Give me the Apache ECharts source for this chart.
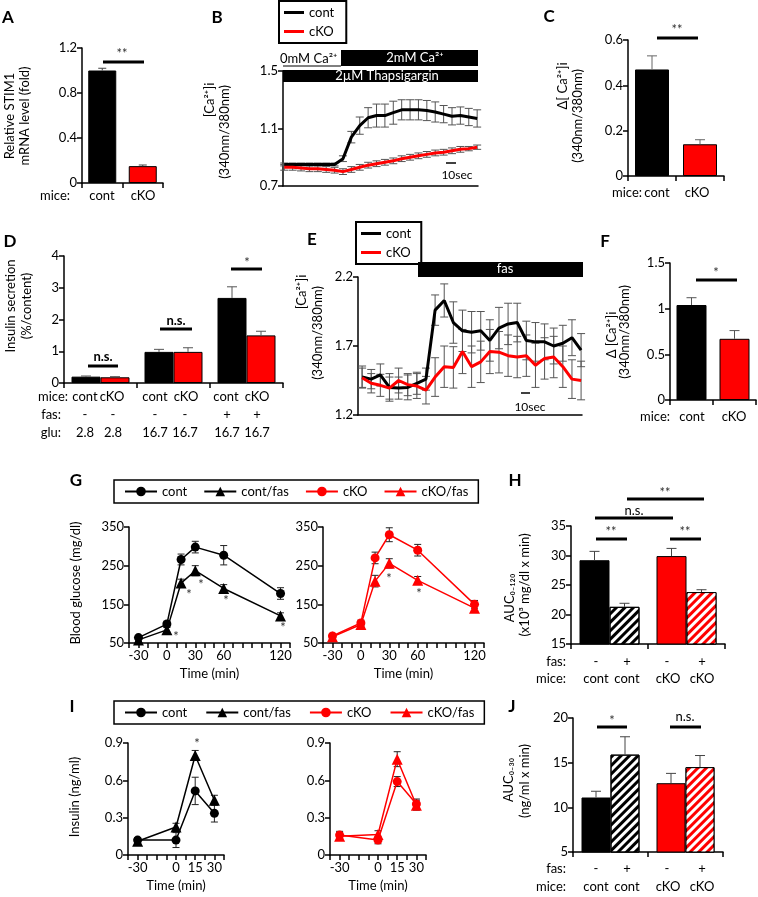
<!DOCTYPE html>
<html>
<head>
<meta charset="utf-8">
<script src="https://cdn.jsdelivr.net/npm/echarts@6/dist/echarts.min.js"></script>
<style>
html, body { margin: 0; padding: 0; background: #fff; }
#chart { width: 758px; height: 897px; }
</style>
</head>
<body>
<div id="chart"></div>
<script>
var FONT = 'Lato, "Noto Sans", sans-serif';
var RED = '#ff0000';

// A - STIM1 mRNA
var miceAC = ['cont', 'cKO'];
var stim1A = [1.0, 0.15];
var stim1AErr = [0.02, 0.01];

// B - Ca trace (thapsigargin)
var timeB = [0, 1, 2, 3, 4, 5, 6, 7, 8, 9, 10, 11, 12, 13, 14, 15, 16, 17, 18, 19, 20, 21, 22, 23];
var contB = [0.85, 0.85, 0.85, 0.85, 0.85, 0.85, 0.85, 0.89, 1.04, 1.12, 1.175, 1.19, 1.19, 1.21, 1.23, 1.23, 1.23, 1.225, 1.215, 1.20, 1.185, 1.19, 1.18, 1.17];
var contBErr = [0.01, 0.01, 0.01, 0.01, 0.01, 0.01, 0.01, 0.02, 0.04, 0.06, 0.07, 0.08, 0.08, 0.08, 0.07, 0.07, 0.07, 0.07, 0.07, 0.06, 0.06, 0.06, 0.06, 0.06];
var ckoB = [0.83, 0.83, 0.825, 0.82, 0.82, 0.815, 0.81, 0.80, 0.815, 0.83, 0.845, 0.855, 0.865, 0.875, 0.89, 0.90, 0.91, 0.92, 0.93, 0.935, 0.945, 0.955, 0.96, 0.97];
var ckoBErr = [0.02, 0.02, 0.02, 0.02, 0.02, 0.02, 0.02, 0.02, 0.02, 0.02, 0.02, 0.02, 0.02, 0.02, 0.02, 0.02, 0.02, 0.02, 0.02, 0.02, 0.02, 0.02, 0.015, 0.015];

// C - delta Ca
var deltaC = [0.47, 0.14];
var deltaCErr = [0.06, 0.02];

// D - insulin secretion
var groupsD = ['2.8', '16.7', '16.7 fas'];
var contD = [0.20, 0.98, 2.68];
var contDErr = [0.02, 0.08, 0.35];
var ckoD = [0.18, 0.98, 1.50];
var ckoDErr = [0.02, 0.13, 0.13];

// E - Ca trace (fas)
var timeE = [0, 1, 2, 3, 4, 5, 6, 7, 8, 9, 10, 11, 12, 13, 14, 15, 16, 17, 18, 19, 20, 21, 22, 23, 24];
var contE = [1.475, 1.46, 1.49, 1.40, 1.395, 1.40, 1.43, 1.46, 1.96, 2.03, 1.87, 1.81, 1.80, 1.81, 1.74, 1.83, 1.86, 1.87, 1.74, 1.73, 1.73, 1.70, 1.72, 1.76, 1.67];
var contEErr = [0.08, 0.07, 0.08, 0.10, 0.08, 0.09, 0.08, 0.08, 0.11, 0.12, 0.15, 0.15, 0.15, 0.14, 0.15, 0.15, 0.15, 0.14, 0.14, 0.14, 0.13, 0.13, 0.13, 0.13, 0.12];
var ckoE = [1.47, 1.43, 1.415, 1.395, 1.45, 1.42, 1.41, 1.38, 1.475, 1.55, 1.545, 1.66, 1.55, 1.585, 1.66, 1.655, 1.63, 1.62, 1.63, 1.56, 1.61, 1.62, 1.55, 1.46, 1.45];
var ckoEErr = [0.07, 0.07, 0.08, 0.08, 0.09, 0.08, 0.09, 0.10, 0.14, 0.15, 0.15, 0.16, 0.15, 0.15, 0.16, 0.15, 0.15, 0.15, 0.15, 0.16, 0.15, 0.15, 0.15, 0.14, 0.14];

// F - delta Ca (fas)
var deltaF = [1.04, 0.67];
var deltaFErr = [0.08, 0.09];

// G - blood glucose
var timeG = [-30, 0, 15, 30, 60, 120];
var timeGTicks = [-30, 0, 30, 60, 120];
var contG = [64, 99, 266, 298, 277, 178];
var contGErr = [5, 7, 14, 15, 25, 15];
var contFasG = [58, 84, 205, 237, 191, 120];
var contFasGErr = [4, 6, 10, 13, 10, 8];
var ckoG = [68, 102, 270, 330, 290, 150];
var ckoGErr = [5, 7, 15, 18, 15, 10];
var ckoFasG = [66, 98, 210, 256, 212, 140];
var ckoFasGErr = [4, 6, 15, 12, 10, 8];

// H - AUC glucose
var miceHJ = ['cont', 'cKO'];
var aucH = [29.2, 29.9];
var aucHErr = [1.5, 1.3];
var aucFasH = [21.3, 23.8];
var aucFasHErr = [0.6, 0.4];

// I - insulin
var timeI = [-30, 0, 15, 30];
var timeITicks = [-30, 0, 15, 30];
var contI = [0.12, 0.12, 0.515, 0.335];
var contIErr = [0.02, 0.06, 0.11, 0.07];
var contFasI = [0.11, 0.225, 0.80, 0.44];
var contFasIErr = [0.02, 0.03, 0.04, 0.04];
var ckoI = [0.16, 0.12, 0.59, 0.41];
var ckoIErr = [0.03, 0.03, 0.04, 0.04];
var ckoFasI = [0.15, 0.165, 0.77, 0.40];
var ckoFasIErr = [0.03, 0.03, 0.06, 0.04];

// J - AUC insulin
var aucJ = [11.1, 12.7];
var aucJErr = [0.7, 1.1];
var aucFasJ = [15.9, 14.5];
var aucFasJErr = [2.0, 1.3];

// ---------- helpers ----------
function pairs(xs, ys) {
	return ys.map(function (v, i) { return [xs[i], v]; });
}
function triples(xs, ys, es) {
	return ys.map(function (v, i) { return [xs[i], v, es[i]]; });
}
function idx(arr) {
	return arr.map(function (v, i) { return i; });
}

function errorBars(offset, cap, both, color) {
	return function (params, api) {
		var x = api.value(0), y = api.value(1), e = api.value(2);
		var pTop = api.coord([x, y + e]);
		var pBot = api.coord([x, both ? y - e : y]);
		var cx = pTop[0] + offset;
		var st = { stroke: color, lineWidth: 1 };
		var kids = [
			{ type: 'line', shape: { x1: cx, y1: pTop[1], x2: cx, y2: pBot[1] }, style: st },
			{ type: 'line', shape: { x1: cx - cap, y1: pTop[1], x2: cx + cap, y2: pTop[1] }, style: st }
		];
		if (both) {
			kids.push({ type: 'line', shape: { x1: cx - cap, y1: pBot[1], x2: cx + cap, y2: pBot[1] }, style: st });
		}
		return { type: 'group', children: kids };
	};
}
function errSeries(ai, data, offset, cap, both, color, z) {
	return {
		type: 'custom', xAxisIndex: ai, yAxisIndex: ai, data: data,
		renderItem: errorBars(offset, cap, both, color),
		z: z, silent: true, clip: false
	};
}

var axisLineStyle = { color: '#000', width: 1.5 };
function yAxisOf(gi, min, max, interval, fmt) {
	return {
		type: 'value', gridIndex: gi, min: min, max: max, interval: interval,
		splitLine: { show: false },
		axisLine: { show: true, onZero: false, lineStyle: axisLineStyle },
		axisTick: { show: true, length: 5, lineStyle: axisLineStyle },
		axisLabel: { color: '#000', fontSize: 13, fontFamily: FONT, margin: 5, formatter: fmt }
	};
}
function catAxisOf(gi, cats) {
	return {
		type: 'category', gridIndex: gi, data: cats,
		axisLine: { show: true, onZero: false, lineStyle: axisLineStyle },
		axisTick: { show: true, length: 5, alignWithLabel: false, lineStyle: axisLineStyle },
		axisLabel: { show: false }, splitLine: { show: false }
	};
}
function traceAxisOf(gi, min, max) {
	return {
		type: 'value', gridIndex: gi, min: min, max: max,
		axisLine: { show: true, onZero: false, lineStyle: axisLineStyle },
		axisTick: { show: false }, axisLabel: { show: false }, splitLine: { show: false }
	};
}
function timeAxisOf(gi, min, max, interval, shown) {
	return {
		type: 'value', gridIndex: gi, min: min, max: max, interval: interval,
		axisLine: { show: true, onZero: false, lineStyle: axisLineStyle },
		axisTick: { show: true, length: 5, lineStyle: axisLineStyle },
		splitLine: { show: false },
		axisLabel: {
			color: '#000', fontSize: 13, fontFamily: FONT, margin: 6, interval: 0,
			showMinLabel: true, showMaxLabel: true,
			formatter: function (v) { return shown.indexOf(v) >= 0 ? String(v) : ''; }
		},
		name: 'Time (min)', nameLocation: 'middle', nameGap: 24,
		nameTextStyle: { color: '#000', fontSize: 13, fontFamily: FONT }
	};
}

function colored(values, colors) {
	return values.map(function (v, i) {
		return { value: v, itemStyle: { color: colors[i], borderColor: '#000', borderWidth: 1 } };
	});
}
function hatched(values, bg, fg) {
	return values.map(function (v, i) {
		return {
			value: v,
			itemStyle: {
				color: bg[i], borderColor: '#000', borderWidth: 1,
				decal: { symbol: 'rect', symbolSize: 1, color: fg[i], dashArrayX: [1, 0], dashArrayY: [3, 3], rotation: -Math.PI / 4 }
			}
		};
	});
}
function fixed(d) {
	return function (v) { return v === 0 ? '0' : v.toFixed(d); };
}

// ---------- grids ----------
var grids = [
	{ left: 82, top: 48, width: 81, height: 135 },    // 0 A
	{ left: 283, top: 71, width: 195, height: 115 },  // 1 B
	{ left: 628, top: 40, width: 96, height: 136 },   // 2 C
	{ left: 64, top: 256, width: 219, height: 127 },  // 3 D
	{ left: 358, top: 277, width: 224, height: 138 }, // 4 E
	{ left: 670, top: 263, width: 86, height: 137 },  // 5 F
	{ left: 129, top: 527, width: 161, height: 116 }, // 6 G left
	{ left: 323, top: 527, width: 161, height: 116 }, // 7 G right
	{ left: 571, top: 526, width: 154, height: 118 }, // 8 H
	{ left: 128, top: 743, width: 96, height: 112 },  // 9 I left
	{ left: 330, top: 743, width: 96, height: 112 },  // 10 I right
	{ left: 573, top: 718, width: 150, height: 134 }  // 11 J
].map(function (g) { g.containLabel = false; g.outerBoundsMode = 'none'; return g; });

var xAxes = [
	catAxisOf(0, miceAC),
	traceAxisOf(1, -0.15, 23.1),
	catAxisOf(2, miceAC),
	catAxisOf(3, groupsD),
	traceAxisOf(4, -0.45, 24.1),
	catAxisOf(5, miceAC),
	timeAxisOf(6, -40, 130, 10, timeGTicks),
	timeAxisOf(7, -40, 130, 10, timeGTicks),
	catAxisOf(8, miceHJ),
	timeAxisOf(9, -37.5, 37.5, 7.5, timeITicks),
	timeAxisOf(10, -37.5, 37.5, 7.5, timeITicks),
	catAxisOf(11, miceHJ)
];
var yAxes = [
	yAxisOf(0, 0, 1.2, 0.4, fixed(1)),
	yAxisOf(1, 0.7, 1.5, 0.4, fixed(1)),
	yAxisOf(2, 0, 0.6, 0.2, fixed(1)),
	yAxisOf(3, 0, 4, 1, fixed(0)),
	yAxisOf(4, 1.2, 2.2, 0.5, fixed(1)),
	yAxisOf(5, 0, 1.5, 0.5, function (v) { return String(v); }),
	yAxisOf(6, 50, 350, 100, fixed(0)),
	yAxisOf(7, 50, 350, 100, fixed(0)),
	yAxisOf(8, 15, 35, 5, fixed(0)),
	yAxisOf(9, 0, 0.9, 0.3, fixed(1)),
	yAxisOf(10, 0, 0.9, 0.3, fixed(1)),
	yAxisOf(11, 5, 20, 5, fixed(0))
];

var series = [];
// A
series.push({ type: 'bar', xAxisIndex: 0, yAxisIndex: 0, barWidth: 28, data: colored(stim1A, ['#000', RED]) });
series.push(errSeries(0, triples(idx(stim1A), stim1A, stim1AErr), 0, 4, false, '#444', 3));
// B
series.push(errSeries(1, triples(timeB, contB, contBErr), 0, 4, true, '#555', 1));
series.push(errSeries(1, triples(timeB, ckoB, ckoBErr), 0, 4, true, '#555', 1));
series.push({ type: 'line', name: 'cont (Ca)', xAxisIndex: 1, yAxisIndex: 1, data: pairs(timeB, contB), showSymbol: false, symbol: 'none', lineStyle: { color: '#000', width: 3 }, itemStyle: { color: '#000' }, z: 3 });
series.push({ type: 'line', name: 'cKO (Ca)', xAxisIndex: 1, yAxisIndex: 1, data: pairs(timeB, ckoB), showSymbol: false, symbol: 'none', lineStyle: { color: RED, width: 3 }, itemStyle: { color: RED }, z: 3 });
// C
series.push({ type: 'bar', xAxisIndex: 2, yAxisIndex: 2, barWidth: 34, data: colored(deltaC, ['#000', RED]) });
series.push(errSeries(2, triples(idx(deltaC), deltaC, deltaCErr), 0, 5, false, '#666', 3));
// D
series.push({ type: 'bar', xAxisIndex: 3, yAxisIndex: 3, barWidth: 29, barGap: '0%', data: colored(contD, ['#000', '#000', '#000']) });
series.push({ type: 'bar', xAxisIndex: 3, yAxisIndex: 3, barWidth: 29, barGap: '0%', data: colored(ckoD, [RED, RED, RED]) });
series.push(errSeries(3, triples(idx(contD), contD, contDErr), -14.5, 5, false, '#555', 3));
series.push(errSeries(3, triples(idx(ckoD), ckoD, ckoDErr), 14.5, 5, false, '#555', 3));
// E
series.push(errSeries(4, triples(timeE, contE, contEErr), 0, 4, true, '#555', 1));
series.push(errSeries(4, triples(timeE, ckoE, ckoEErr), 0, 4, true, '#555', 1));
series.push({ type: 'line', name: 'cont (Ca)', xAxisIndex: 4, yAxisIndex: 4, data: pairs(timeE, contE), showSymbol: false, symbol: 'none', lineStyle: { color: '#000', width: 3 }, itemStyle: { color: '#000' }, z: 3 });
series.push({ type: 'line', name: 'cKO (Ca)', xAxisIndex: 4, yAxisIndex: 4, data: pairs(timeE, ckoE), showSymbol: false, symbol: 'none', lineStyle: { color: RED, width: 3 }, itemStyle: { color: RED }, z: 3 });
// F
series.push({ type: 'bar', xAxisIndex: 5, yAxisIndex: 5, barWidth: 30, data: colored(deltaF, ['#000', RED]) });
series.push(errSeries(5, triples(idx(deltaF), deltaF, deltaFErr), 0, 5, false, '#555', 3));

// G / I time courses
function course(ai, name, xs, ys, es, color, sym) {
	series.push(errSeries(ai, triples(xs, ys, es), 0, 3.5, true, '#222', 1));
	series.push({
		type: 'line', name: name, xAxisIndex: ai, yAxisIndex: ai, data: pairs(xs, ys),
		symbol: sym, symbolSize: sym === 'circle' ? 9 : 11, showSymbol: true,
		lineStyle: { color: color, width: 1.5 }, itemStyle: { color: color }, z: 3
	});
}
course(6, 'cont', timeG, contG, contGErr, '#000', 'circle');
course(6, 'cont/fas', timeG, contFasG, contFasGErr, '#000', 'triangle');
course(7, 'cKO', timeG, ckoG, ckoGErr, RED, 'circle');
course(7, 'cKO/fas', timeG, ckoFasG, ckoFasGErr, RED, 'triangle');
course(9, 'cont', timeI, contI, contIErr, '#000', 'circle');
course(9, 'cont/fas', timeI, contFasI, contFasIErr, '#000', 'triangle');
course(10, 'cKO', timeI, ckoI, ckoIErr, RED, 'circle');
course(10, 'cKO/fas', timeI, ckoFasI, ckoFasIErr, RED, 'triangle');

// H
series.push({ type: 'bar', xAxisIndex: 8, yAxisIndex: 8, barWidth: 30, barGap: '0%', data: colored(aucH, ['#000', RED]) });
series.push({ type: 'bar', xAxisIndex: 8, yAxisIndex: 8, barWidth: 30, barGap: '0%', data: hatched(aucFasH, ['#fff', RED], ['#000', '#fff']) });
series.push(errSeries(8, triples(idx(aucH), aucH, aucHErr), -15, 5, false, '#444', 3));
series.push(errSeries(8, triples(idx(aucFasH), aucFasH, aucFasHErr), 15, 5, false, '#444', 3));
// J
series.push({ type: 'bar', xAxisIndex: 11, yAxisIndex: 11, barWidth: 29, barGap: '0%', data: colored(aucJ, ['#000', RED]) });
series.push({ type: 'bar', xAxisIndex: 11, yAxisIndex: 11, barWidth: 29, barGap: '0%', data: hatched(aucFasJ, ['#fff', RED], ['#000', '#fff']) });
series.push(errSeries(11, triples(idx(aucJ), aucJ, aucJErr), -14.5, 5, false, '#444', 3));
series.push(errSeries(11, triples(idx(aucFasJ), aucFasJ, aucFasJErr), 14.5, 5, false, '#444', 3));

// ---------- annotations ----------
var gfx = [];
function T(x, y, s, o) {
	o = o || {};
	gfx.push({
		type: 'text', x: x, y: y, rotation: o.rot || 0, z: 100, silent: true,
		style: {
			text: s, fill: o.color || '#000',
			font: (o.bold ? 'bold ' : '') + (o.size || 13) + 'px ' + FONT,
			textAlign: o.align || 'center', textVerticalAlign: 'middle',
			align: o.align || 'center', verticalAlign: 'middle'
		}
	});
}
function V(x, y, s, o) { o = o || {}; o.rot = Math.PI / 2; T(x, y, s, o); }
function L(x1, y1, x2, y2, w, c) {
	gfx.push({ type: 'line', z: 100, silent: true, shape: { x1: x1, y1: y1, x2: x2, y2: y2 }, style: { stroke: c || '#000', lineWidth: w || 3 } });
}
function R(x, y, w, h) {
	gfx.push({ type: 'rect', z: 90, silent: true, shape: { x: x, y: y, width: w, height: h }, style: { fill: '#000' } });
}

// panel letters
[['A', 8, 18], ['B', 217, 18], ['C', 549, 17], ['D', 10, 242], ['E', 312, 240], ['F', 605, 242],
 ['G', 76, 481], ['H', 515, 481], ['I', 72, 707], ['J', 512, 707]].forEach(function (p) {
	T(p[1], p[2], p[0], { bold: true, size: 17 });
});

// y titles
V(10, 116, 'Relative STIM1'); V(25, 116, 'mRNA level (fold)');
V(210, 100, '[Ca²⁺]i'); V(225, 132, '(340nm/380nm)');
V(563, 86, 'Δ[ Ca²⁺]i'); V(578, 116, '(340nm/380nm)');
V(11, 306, 'Insulin secretion'); V(27, 306, '(%/content)');
V(302, 292, '[Ca²⁺]i'); V(318, 333, '(340nm/380nm)');
V(612, 335, 'Δ [Ca²⁺]i'); V(625, 332, '(340nm/380nm)');
V(76, 583, 'Blood glucose (mg/dl)');
V(510, 598, 'AUC₀₋₁₂₀'); V(525, 585, '(x10³ mg/dl x min)');
V(75, 797, 'Insulin (ng/ml)');
V(509, 780, 'AUC₀₋₃₀'); V(525, 781, '(ng/ml x min)');

// row labels
T(70, 196, 'mice:', { align: 'right' }); T(102, 196, 'cont'); T(143, 196, 'cKO');
T(642, 193, 'mice:', { align: 'right' }); T(657, 193, 'cont'); T(697, 193, 'cKO');
T(670, 417, 'mice:', { align: 'right' }); T(692, 417, 'cont'); T(734, 417, 'cKO');
T(68, 397, 'mice:', { align: 'right' });
[[85, 'cont'], [112, 'cKO'], [155, 'cont'], [186, 'cKO'], [226, 'cont'], [257, 'cKO']].forEach(function (p) { T(p[0], 397, p[1]); });
T(61, 415, 'fas:', { align: 'right' });
[[85, '-'], [113, '-'], [155, '-'], [185, '-'], [227, '+'], [257, '+']].forEach(function (p) { T(p[0], 415, p[1]); });
T(61, 433, 'glu:', { align: 'right' });
[[85, '2.8'], [113, '2.8'], [155, '16.7'], [185, '16.7'], [227, '16.7'], [257, '16.7']].forEach(function (p) { T(p[0], 433, p[1]); });
[662, 869].forEach(function (y) {
	T(566, y, 'fas:', { align: 'right' });
	T(596, y, '-'); T(627, y, '+'); T(667, y, '-'); T(702, y, '+');
});
[679, 887].forEach(function (y) {
	T(566, y, 'mice:', { align: 'right' });
	T(596, y, 'cont'); T(627, y, 'cont'); T(668, y, 'cKO'); T(702, y, 'cKO');
});

// B stimulus bars
T(280, 59, '0mM Ca²⁺', { align: 'left' });
L(283, 66, 341, 66, 1);
R(341, 50, 137, 16); T(415, 58, '2mM Ca²⁺', { color: '#fff' });
R(283, 70, 195, 12); T(387, 76, '2µM Thapsigargin', { color: '#fff' });
L(446, 163, 456, 163, 1.5); T(457, 175, '10sec', { size: 12 });
// E stimulus bar
R(418, 262, 165, 15); T(505, 269, 'fas', { color: '#fff' });
L(521, 393, 530, 393, 1.5); T(530, 407, '10sec', { size: 12 });

// significance marks
var sc = '#333';
L(103, 62, 144, 62); T(122, 54, '**', { color: sc });
L(657, 38, 698, 38); T(677, 30, '**', { color: sc });
L(88, 366, 118, 366); T(103, 357, 'n.s.', { bold: true });
L(160, 329, 192, 329); T(176, 321, 'n.s.', { bold: true });
L(231, 269, 262, 269); T(247, 263, '*', { color: sc });
L(696, 280, 737, 280); T(716, 273, '*', { color: sc });
L(596, 539, 627, 539); T(611, 532, '**', { color: sc });
L(670, 539, 701, 539); T(685, 532, '**', { color: sc });
L(595, 518, 673, 518); T(634, 511, 'n.s.');
L(627, 499, 704, 499); T(665, 493, '**', { color: sc });
L(597, 727, 627, 727); T(612, 721, '*', { color: sc });
L(670, 727, 701, 727); T(685, 717, 'n.s.');
// asterisks on time courses
[[189, 595], [201, 585], [226, 601], [283, 628], [176, 637], [389, 579], [419, 594], [197, 744]].forEach(function (p) {
	T(p[0], p[1], '*', { color: sc });
});

// ---------- legends ----------
var legTxt = { color: '#000', fontSize: 13, fontFamily: FONT };
function stripCa(n) { return n.replace(' (Ca)', ''); }
var caLegendData = [{ name: 'cont (Ca)', icon: 'rect' }, { name: 'cKO (Ca)', icon: 'rect' }];
var legends = [
	{ data: caLegendData, orient: 'vertical', left: 279, top: 1, padding: [5, 12, 5, 5], itemGap: 6,
	  itemWidth: 20, itemHeight: 3, borderColor: '#000', borderWidth: 2, selectedMode: false, textStyle: legTxt, formatter: stripCa },
	{ data: caLegendData, orient: 'vertical', left: 356, top: 222, padding: [5, 10, 5, 5], itemGap: 6,
	  itemWidth: 20, itemHeight: 3, borderColor: '#000', borderWidth: 2, selectedMode: false, textStyle: legTxt, formatter: stripCa },
	{ data: ['cont', 'cont/fas', 'cKO', 'cKO/fas'], orient: 'horizontal', left: 114, top: 480, padding: [5, 10], itemGap: 16,
	  itemWidth: 32, itemHeight: 12, borderColor: '#000', borderWidth: 1.5, selectedMode: false, textStyle: legTxt },
	{ data: ['cont', 'cont/fas', 'cKO', 'cKO/fas'], orient: 'horizontal', left: 114, top: 701, padding: [5, 10], itemGap: 18,
	  itemWidth: 32, itemHeight: 12, borderColor: '#000', borderWidth: 1.5, selectedMode: false, textStyle: legTxt }
];

var myChart = echarts.init(document.getElementById('chart'), null, { renderer: 'canvas' });
myChart.setOption({
	animation: false,
	backgroundColor: '#fff',
	textStyle: { fontFamily: FONT },
	legend: legends,
	grid: grids,
	xAxis: xAxes,
	yAxis: yAxes,
	series: series,
	graphic: gfx
});
</script>
</body>
</html>
